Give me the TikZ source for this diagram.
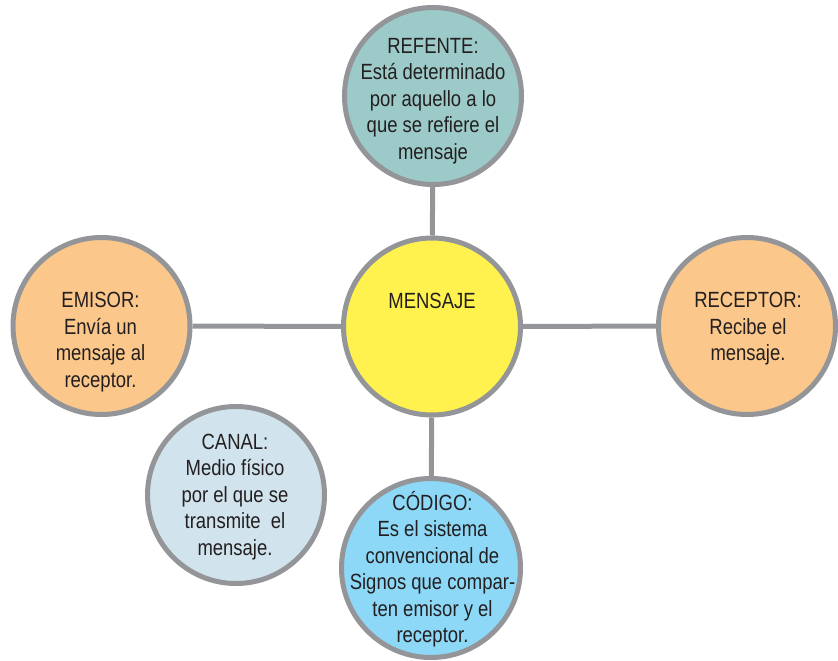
\documentclass[tikz,border=0pt]{standalone}
\usepackage{fontspec}
\setmainfont[FakeStretch=0.84]{Liberation Sans}
\usetikzlibrary{calc}
\definecolor{rim}{HTML}{939598}
\definecolor{ink}{HTML}{231F20}
\definecolor{orangef}{HTML}{FBC78A}
\definecolor{yellowf}{HTML}{FFF24F}
\definecolor{tealf}{HTML}{9CCAC8}
\definecolor{canalf}{HTML}{D1E3EC}
\definecolor{codigof}{HTML}{8DD8F7}
\tikzset{
  bub/.style={circle, draw=rim, line width=5pt, minimum size=177pt, inner sep=0pt},
  txt/.style={align=center, text=ink, font=\fontsize{22}{26.5}\selectfont, inner sep=0pt},
  link/.style={draw=rim, line width=5pt}
}
\begin{document}
\begin{tikzpicture}[x=1pt,y=-1pt]
\useasboundingbox (0,0) rectangle (838,661);
% circles
\node[bub, fill=tealf]   (refente)  at (433,96)    {};
\node[bub, fill=yellowf] (mensaje)  at (432,326.5) {};
\node[bub, fill=orangef] (emisor)   at (101.5,326) {};
\node[bub, fill=orangef] (receptor) at (747,326)   {};
\node[bub, fill=canalf]  (canal)    at (236,495)   {};
\node[bub, fill=codigof, minimum size=179pt] (codigo) at (431,568) {};
% connectors
\draw[link] (emisor) -- (mensaje);
\draw[link] (mensaje) -- (receptor);
\draw[link] (refente) -- (mensaje);
\draw[link] (mensaje) -- (codigo);
% texts
\node[txt] (trefente) at (433,101) {REFENTE:\\Está determinado\\por aquello a lo\\que se refiere el\\mensaje};
\node[txt] (tmensaje) at (432,301) {MENSAJE};
\node[txt] (temisor) at (100.5,342) {EMISOR:\\Envía un\\mensaje al\\receptor.};
\node[txt] (treceptor) at (748,329) {RECEPTOR:\\Recibe el\\mensaje.};
\node[txt] (tcanal) at (235,497) {CANAL:\\Medio físico\\por el que se\\transmite~ el\\mensaje.};
\node[txt] (tcodigo) at (432.5,569) {CÓDIGO:\\Es el sistema\\convencional de\\Signos que compar-\\ten emisor y el\\receptor.};
\end{tikzpicture}
\end{document}
